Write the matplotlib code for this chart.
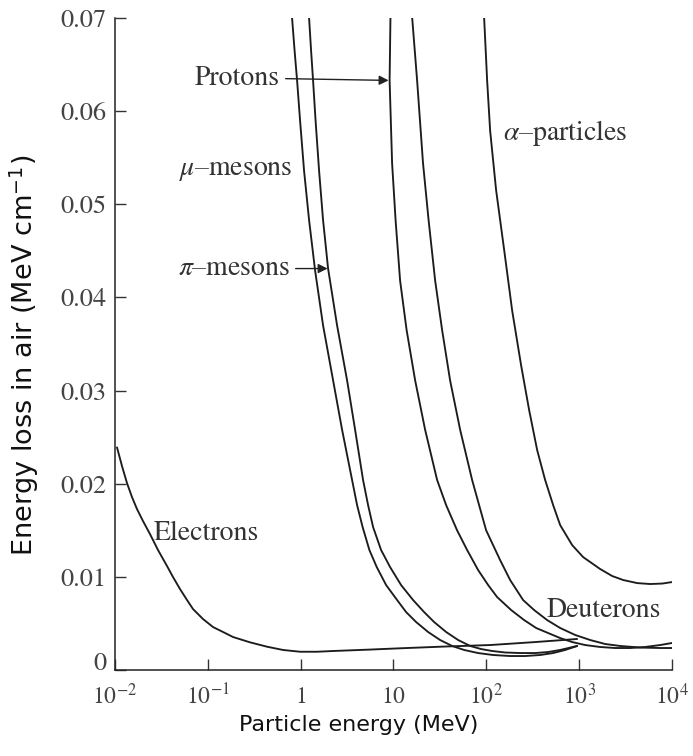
import matplotlib
matplotlib.use("Agg")
import matplotlib.pyplot as plt
from matplotlib.ticker import NullLocator, FixedLocator, FixedFormatter

plt.rcParams['mathtext.fontset'] = 'stix'

# ---------------- data (particle kinetic energy in MeV, energy loss in MeV/cm) ----------------
electron_E = [0.01051, 0.01190, 0.01347, 0.01525, 0.01727, 0.02003, 0.02383, 0.02907, 0.03634,
              0.04217, 0.05017, 0.05970, 0.06927, 0.08878, 0.1138, 0.1458, 0.1869, 0.2849,
              0.4344, 0.6461, 0.985, 1.502, 2.235, 5.194, 11.78, 36.0, 109.9, 336, 951]
electron_dEdx = [0.0239, 0.02189, 0.02006, 0.01856, 0.01727, 0.01599, 0.01459, 0.01288, 0.01116,
                 0.00998, 0.00869, 0.00751, 0.00654, 0.00547, 0.00461, 0.00408, 0.00354, 0.00297,
                 0.00250, 0.00215, 0.00196, 0.00196, 0.00204, 0.00218, 0.00233, 0.00252, 0.00268,
                 0.00300, 0.00333]

muon_E = [0.808, 0.860, 0.915, 0.985, 1.088, 1.232, 1.430, 1.743, 2.235, 2.793, 3.58, 4.054,
          4.65, 5.50, 6.60, 8.325, 10.94, 13.67, 17.52, 23.6, 31.8, 42.8, 57.7, 81.6, 118.4,
          180, 262, 380, 524, 707, 951]
muon_dEdx = [0.0700, 0.0665, 0.0633, 0.0590, 0.0536, 0.0483, 0.0429, 0.0370, 0.0311, 0.0258,
             0.0204, 0.0177, 0.01534, 0.01288, 0.01105, 0.00912, 0.00751, 0.00622, 0.00515,
             0.00408, 0.00322, 0.00258, 0.00215, 0.00182, 0.00161, 0.00150, 0.00150, 0.00161,
             0.00182, 0.00215, 0.00258]

pion_E = [1.232, 1.295, 1.360, 1.447, 1.579, 1.743, 1.974, 2.467, 3.162, 3.857, 4.70, 5.325,
          6.03, 7.35, 9.19, 12.07, 16.26, 21.36, 27.38, 36.9, 49.7, 66.9, 87.9, 115.5, 159.4,
          231, 335.6, 463, 624, 951]
pion_dEdx = [0.0700, 0.0665, 0.0633, 0.0590, 0.0536, 0.0483, 0.0431, 0.0370, 0.0311, 0.0258,
             0.0204, 0.0177, 0.01534, 0.01288, 0.01105, 0.00912, 0.00751, 0.00622, 0.00515,
             0.00408, 0.00322, 0.00258, 0.00225, 0.00204, 0.00188, 0.00182, 0.00182, 0.00193,
             0.00215, 0.00258]

proton_E = [9.27, 9.078, 9.66, 10.53, 11.78, 13.84, 17.1, 21.9, 29.5, 36.9, 48.4, 62.1, 81.6,
            104.6, 130.7, 185, 255.5, 344, 463, 624, 840.6, 1161, 1684, 2443, 3544, 5143,
            7462, 10000]
proton_dEdx = [0.0700, 0.0633, 0.0544, 0.0483, 0.0418, 0.0365, 0.0311, 0.0258, 0.0204, 0.0177,
               0.0150, 0.01288, 0.01073, 0.00912, 0.00783, 0.00644, 0.00536, 0.00451, 0.00397,
               0.00343, 0.00300, 0.00268, 0.00247, 0.00236, 0.00236, 0.00247, 0.00268, 0.00290]

deuteron_E = [15.9, 17.96, 20.8, 23.88, 28.1, 33.39, 40.7, 52.2, 70.3, 83.6, 99.5, 140.8,
              180.5, 249, 327, 452, 624, 905.6, 1314, 1906, 2765, 4542, 7462, 10000]
deuteron_dEdx = [0.0700, 0.0633, 0.0544, 0.0483, 0.0418, 0.0365, 0.0311, 0.0258, 0.0204,
                 0.0177, 0.0150, 0.0118, 0.00966, 0.00751, 0.00644, 0.00536, 0.00451, 0.00376,
                 0.00322, 0.00279, 0.00258, 0.00241, 0.00236, 0.00236]

alpha_E = [94.7, 102, 109.9, 127.5, 155.6, 189.7, 237, 289.2, 353, 430, 524.6, 624, 840.6,
           1104, 1684, 2268, 2980, 4217, 5823, 7842, 10000]
alpha_dEdx = [0.0700, 0.0633, 0.0579, 0.0515, 0.0451, 0.0386, 0.0327, 0.0279, 0.0236, 0.0204,
              0.0177, 0.01556, 0.01341, 0.01212, 0.01084, 0.01009, 0.00966, 0.00933, 0.00923,
              0.00928, 0.00944]

x_ticks = [1e-2, 1e-1, 1, 10, 1e2, 1e3, 1e4]
x_tick_labels = [r'$10^{-2}$', r'$10^{-1}$', r'$1$', r'$10$', r'$10^{2}$', r'$10^{3}$', r'$10^{4}$']
y_ticks = [0, 0.01, 0.02, 0.03, 0.04, 0.05, 0.06, 0.07]
y_tick_labels = ['0', '0.01', '0.02', '0.03', '0.04', '0.05', '0.06', '0.07']

# ---------------- figure ----------------
W, H = 693, 756
fig = plt.figure(figsize=(W / 100, H / 100), dpi=100)
ax = fig.add_axes([115 / W, 1 - 670 / H, 557 / W, 652 / H])

line_color = '#1c1c1c'
lw = 1.35
for xs, ys in [(electron_E, electron_dEdx), (muon_E, muon_dEdx), (pion_E, pion_dEdx),
               (proton_E, proton_dEdx), (deuteron_E, deuteron_dEdx), (alpha_E, alpha_dEdx)]:
    ax.plot(xs, ys, color=line_color, lw=lw, solid_capstyle='round', solid_joinstyle='round')

ax.set_xscale('log')
ax.set_xlim(1e-2, 1e4)
ax.set_ylim(0, 0.07)

ax.xaxis.set_major_locator(FixedLocator(x_ticks))
ax.xaxis.set_major_formatter(FixedFormatter(x_tick_labels))
ax.xaxis.set_minor_locator(NullLocator())
ax.yaxis.set_major_locator(FixedLocator(y_ticks))
ax.yaxis.set_major_formatter(FixedFormatter(y_tick_labels))

for s in ['top', 'right']:
    ax.spines[s].set_visible(False)
for s in ['left', 'bottom']:
    ax.spines[s].set_linewidth(1.1)
    ax.spines[s].set_color('#222222')

ax.tick_params(axis='both', direction='in', length=8, width=1.0, color='#333333',
               labelcolor='#444444')
ax.tick_params(axis='x', pad=10, labelsize=17)
ax.tick_params(axis='y', pad=6, labelsize=19)
for lab in ax.get_yticklabels():
    lab.set_fontfamily('STIXGeneral')
ax.yaxis.get_major_ticks()[0].label1.set_verticalalignment('baseline')

ax.set_xlabel('Particle energy (MeV)', fontsize=16, color='#111111')
ax.xaxis.set_label_coords(0.437, -0.069)
ax.set_ylabel('Energy loss in air (MeV cm$^{\\mathregular{-1}}$)', fontsize=19.5, color='#111111')
ax.yaxis.set_label_coords(-0.132, 0.483)

txt_kw = dict(fontfamily='STIXGeneral', fontsize=20, color='#333333')
arrow_kw = dict(arrowstyle='-|>', color='#222222', lw=1.0, mutation_scale=14,
                shrinkA=2, shrinkB=0, relpos=(1, 0.5))

ax.annotate('Protons', xy=(8.85, 0.0633), xytext=(0.600, 0.0635), ha='right', va='center',
            arrowprops=arrow_kw, **txt_kw)
ax.annotate('$\\pi$\u2013mesons', xy=(1.95, 0.0431), xytext=(0.769, 0.0431), ha='right',
            va='center', arrowprops=arrow_kw, **txt_kw)
ax.text(0.201, 0.0536, '$\\mu$\u2013mesons', ha='center', va='center', **txt_kw)
ax.text(706, 0.0577, '$\\alpha$\u2013particles', ha='center', va='center', **txt_kw)
ax.text(0.0956, 0.0147, 'Electrons', ha='center', va='center', **txt_kw)
ax.text(1858, 0.00644, 'Deuterons', ha='center', va='center', **txt_kw)

fig.savefig('out.png', dpi=100)
